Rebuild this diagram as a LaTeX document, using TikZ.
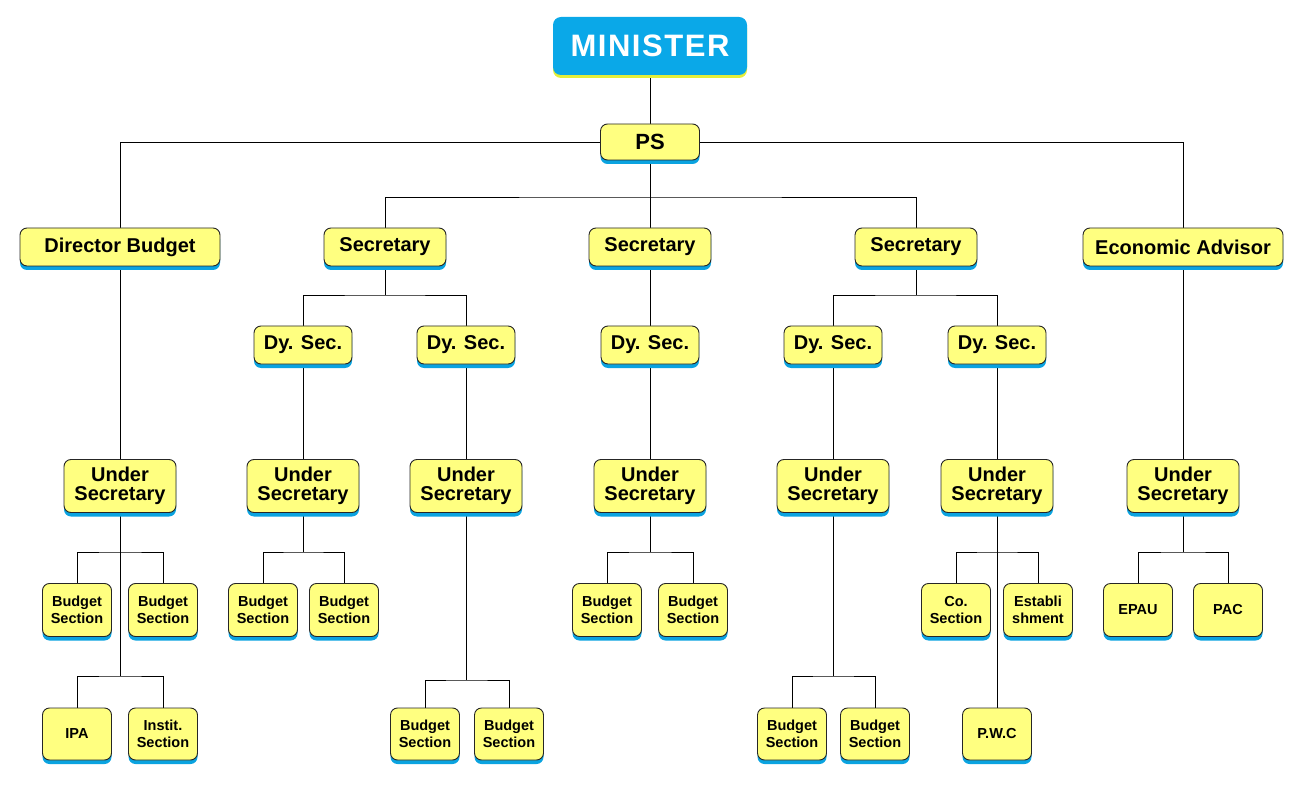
\documentclass[tikz,border=0pt]{standalone}
\usepackage{fontspec}
\setmainfont{Liberation Sans}
\usetikzlibrary{shadows,backgrounds}
\definecolor{boxyellow}{HTML}{FFFF80}
\definecolor{sblue}{HTML}{0AA3E0}
\definecolor{minblue}{HTML}{0AA8E8}
\definecolor{minshadow}{HTML}{E4EE3A}
\tikzset{
  box/.style={draw=black!85, line width=0.9pt, rounded corners=7pt, fill=boxyellow, inner sep=0pt, align=center,
    general shadow={fill=sblue, shadow yshift=-4pt}},
  midbox/.style={box, minimum height=38pt, font=\bfseries\fontsize{20}{22}\selectfont},
  usbox/.style={box, minimum width=112pt, minimum height=53pt, font=\bfseries\fontsize{20}{19}\selectfont},
  smallbox/.style={box, minimum width=69pt, minimum height=53pt, font=\bfseries\fontsize{14.5}{17}\selectfont},
  conn/.style={line width=1pt, black}
}
\begin{document}
\begin{tikzpicture}[x=1pt,y=-1pt]
\useasboundingbox (0,0) rectangle (1300,799);
% Minister & PS
\node[fill=minblue, rounded corners=8pt, minimum width=194pt, minimum height=58pt, inner sep=0pt, text=white,
  general shadow={fill=minshadow, shadow yshift=-3pt},
  font=\bfseries\fontsize{31}{34}\selectfont\addfontfeature{LetterSpace=5}] (min) at (650,46) {MINISTER};
\node[box, minimum width=99pt, minimum height=36pt, font=\bfseries\fontsize{22}{24}\selectfont] (ps) at (650,142) {PS};
% level 2
\node[midbox, minimum width=200pt] (db) at (120,247) {Director Budget};
\node[midbox, minimum width=122pt] (s1) at (385,247) {Secretary};
\node[midbox, minimum width=122pt] (s2) at (650,247) {Secretary};
\node[midbox, minimum width=122pt] (s3) at (916,247) {Secretary};
\node[midbox, minimum width=200pt] (ea) at (1183,247) {Economic Advisor};
% Dy. Sec.
\node[midbox, minimum width=98pt] (d1) at (303,345) {Dy. Sec.};
\node[midbox, minimum width=98pt] (d2) at (466,345) {Dy. Sec.};
\node[midbox, minimum width=98pt] (d3) at (650,345) {Dy. Sec.};
\node[midbox, minimum width=98pt] (d4) at (833,345) {Dy. Sec.};
\node[midbox, minimum width=98pt] (d5) at (997,345) {Dy. Sec.};
% Under Secretaries
\node[usbox] (u1) at (120,486) {Under\\Secretary};
\node[usbox] (u2) at (303,486) {Under\\Secretary};
\node[usbox] (u3) at (466,486) {Under\\Secretary};
\node[usbox] (u4) at (650,486) {Under\\Secretary};
\node[usbox] (u5) at (833,486) {Under\\Secretary};
\node[usbox] (u6) at (997,486) {Under\\Secretary};
\node[usbox] (u7) at (1183,486) {Under\\Secretary};
% small row 1
\node[smallbox] (a1) at (77,610) {Budget\\Section};
\node[smallbox] (a2) at (163,610) {Budget\\Section};
\node[smallbox] (a3) at (263,610) {Budget\\Section};
\node[smallbox] (a4) at (344,610) {Budget\\Section};
\node[smallbox] (a5) at (607,610) {Budget\\Section};
\node[smallbox] (a6) at (693,610) {Budget\\Section};
\node[smallbox] (a7) at (956,610) {Co.\\Section};
\node[smallbox] (a8) at (1038,610) {Establi\\shment};
\node[smallbox] (a9) at (1138,610) {EPAU};
\node[smallbox] (a10) at (1228,610) {PAC};
% small row 2
\node[smallbox, minimum height=52pt] (b1) at (77,734) {IPA};
\node[smallbox, minimum height=52pt] (b2) at (163,734) {Instit.\\Section};
\node[smallbox, minimum height=52pt] (b3) at (425,734) {Budget\\Section};
\node[smallbox, minimum height=52pt] (b4) at (509,734) {Budget\\Section};
\node[smallbox, minimum height=52pt] (b5) at (792,734) {Budget\\Section};
\node[smallbox, minimum height=52pt] (b6) at (875,734) {Budget\\Section};
\node[smallbox, minimum height=52pt] (b7) at (997,734) {P.W.C};
% junctions
\coordinate (jps) at (650,197);
\coordinate (js1) at (385,295);
\coordinate (js3) at (916,295);
\coordinate (ju1a) at (120,552);
\coordinate (ju1b) at (120,676);
\coordinate (ju2) at (303,552);
\coordinate (ju3) at (466,680);
\coordinate (ju4) at (650,552);
\coordinate (ju5) at (833,676);
\coordinate (ju6) at (997,552);
\coordinate (ju7) at (1183,552);
\begin{scope}[on background layer, conn]
\draw (min.south) -- (ps.north);
\draw (ps.west) -| (db.north);
\draw (ps.east) -| (ea.north);
\draw (ps.south) -- (jps);
\draw (s1.north) |- (jps) -| (s3.north);
\draw (jps) -- (s2.north);
\draw (s1.south) -- (js1);
\draw (d1.north) |- (js1) -| (d2.north);
\draw (s2.south) -- (d3.north);
\draw (s3.south) -- (js3);
\draw (d4.north) |- (js3) -| (d5.north);
\draw (db.south) -- (u1.north);
\draw (d1.south) -- (u2.north);
\draw (d2.south) -- (u3.north);
\draw (d3.south) -- (u4.north);
\draw (d4.south) -- (u5.north);
\draw (d5.south) -- (u6.north);
\draw (ea.south) -- (u7.north);
\draw (u1.south) -- (ju1b);
\draw (a1.north) |- (ju1a) -| (a2.north);
\draw (b1.north) |- (ju1b) -| (b2.north);
\draw (u2.south) -- (ju2);
\draw (a3.north) |- (ju2) -| (a4.north);
\draw (u3.south) -- (ju3);
\draw (b3.north) |- (ju3) -| (b4.north);
\draw (u4.south) -- (ju4);
\draw (a5.north) |- (ju4) -| (a6.north);
\draw (u5.south) -- (ju5);
\draw (b5.north) |- (ju5) -| (b6.north);
\draw (u6.south) -- (b7.north);
\draw (a7.north) |- (ju6) -| (a8.north);
\draw (u7.south) -- (ju7);
\draw (a9.north) |- (ju7) -| (a10.north);
\end{scope}
\end{tikzpicture}
\end{document}
